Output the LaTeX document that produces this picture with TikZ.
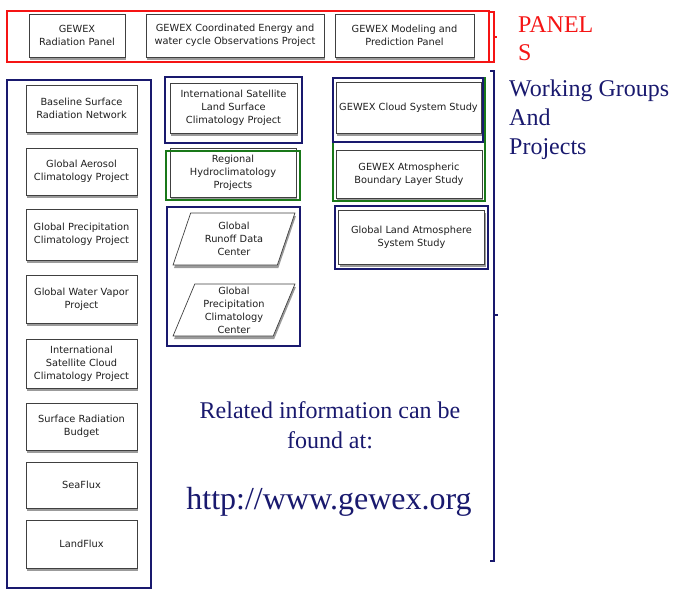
\documentclass[tikz,border=0pt]{standalone}
\usepackage{fontspec}
\setmainfont{Liberation Serif}
\newfontfamily\boxfont{DejaVu Sans}
\usetikzlibrary{shadows,shapes.geometric}
\definecolor{navy}{RGB}{25,25,110}
\definecolor{fgreen}{RGB}{25,120,25}
\definecolor{pred}{RGB}{245,20,20}
\begin{document}
\begin{tikzpicture}[x=1pt,y=-1pt,
  box/.style={draw=black!75, line width=0.7pt, fill=white,
    drop shadow={shadow xshift=1pt, shadow yshift=-3pt, opacity=0.6, fill=black!65},
    align=center, inner sep=1pt, font=\boxfont\fontsize{9.8}{13}\selectfont, text=black!88},
  para/.style={box, trapezium, trapezium left angle=66, trapezium right angle=114,
    trapezium stretches=true, minimum width=122pt, minimum height=52pt, text width=76pt},
  navyframe/.style={draw=navy, line width=2.3pt},
  greenframe/.style={draw=fgreen, line width=2.3pt},
  redframe/.style={draw=pred, line width=2.8pt},
  bigtext/.style={text=navy, inner sep=0pt}
]
\useasboundingbox (0,0) rectangle (674,590);

% ---------- panels ----------
\node[box, minimum width=96pt, minimum height=43pt] (rp) at (77,35.5) {GEWEX\\Radiation Panel};
\node[box, minimum width=178pt, minimum height=43pt] (ceop) at (235,35.5) {GEWEX Coordinated Energy and\\water cycle Observations Project};
\node[box, minimum width=139pt, minimum height=43pt] (mpp) at (404.5,35.5) {GEWEX Modeling and\\Prediction Panel};
\draw[redframe] (7,11) rectangle (489,62);
\draw[draw=pred, line width=1.2pt] (490,12) -- (494,12) -- (494,62) -- (490,62) (494,37) -- (497,37);
\node[text=pred, font=\fontsize{24}{28}\selectfont, align=left, anchor=north west, inner sep=0pt] (panels) at (518,16) {PANEL\\S};

% ---------- left column ----------
\draw[navyframe] (7,80) rectangle (151,588);
\node[box, minimum width=111pt, minimum height=47pt] (bsrn) at (81.5,108.5) {Baseline Surface\\Radiation Network};
\node[box, minimum width=111pt, minimum height=47pt] (gacp) at (81.5,171.5) {Global Aerosol\\Climatology Project};
\node[box, minimum width=111pt, minimum height=51pt] (gpcp) at (81.5,234.5) {Global Precipitation\\Climatology Project};
\node[box, minimum width=111pt, minimum height=48pt] (gvap) at (81.5,299) {Global Water Vapor\\Project};
\node[box, minimum width=111pt, minimum height=49pt] (isccp) at (81.5,363.5) {International\\Satellite Cloud\\Climatology Project};
\node[box, minimum width=111pt, minimum height=47pt] (srb) at (81.5,426.5) {Surface Radiation\\Budget};
\node[box, minimum width=111pt, minimum height=46pt] (sflux) at (81.5,485) {SeaFlux};
\node[box, minimum width=111pt, minimum height=48pt] (lflux) at (81.5,544) {LandFlux};

% ---------- middle column ----------
\node[box, minimum width=127pt, minimum height=50pt] (islscp) at (233.5,108) {International Satellite\\Land Surface\\Climatology Project};
\draw[navyframe] (165,77) rectangle (302,143);
\node[box, minimum width=126pt, minimum height=49pt] (rhp) at (233,172.5) {Regional\\Hydroclimatology\\Projects};
\draw[greenframe] (166,151) rectangle (300,200);
\draw[navyframe] (167,207) rectangle (300,346);
\node[para] (grdc) at (234,239) {Global\\Runoff Data\\Center};
\node[para] (gpcc) at (234,310) {Global\\Precipitation\\Climatology\\Center};

% ---------- right column ----------
\node[box, minimum width=145pt, minimum height=51pt] (gcss) at (408.5,107.5) {GEWEX Cloud System Study};
\node[box, minimum width=146pt, minimum height=48pt] (gabls) at (409,174) {GEWEX Atmospheric\\Boundary Layer Study};
\draw[greenframe] (333,78) rectangle (485,201);
\draw[draw=navy, line width=1.6pt] (333,78) rectangle (483,142);
\node[box, minimum width=146pt, minimum height=54pt] (glass) at (411.5,237) {Global Land Atmosphere\\System Study};
\draw[navyframe] (335,206) rectangle (488,269);

% ---------- working groups bracket ----------
\draw[draw=navy, line width=1.4pt] (490,71) -- (494,71) -- (494,561) -- (490,561) (494,315) -- (498,315);
\node[bigtext, font=\fontsize{24}{29}\selectfont, align=left, anchor=north west] (wg) at (509,80) {Working Groups\\And\\Projects};

% ---------- info ----------
\node[bigtext, font=\fontsize{24}{30}\selectfont, align=center] (info) at (330,425) {Related information can be\\found at:};
\node[bigtext, font=\fontsize{32}{36}\selectfont] (url) at (329,502) {http://www.gewex.org};
\end{tikzpicture}
\end{document}
